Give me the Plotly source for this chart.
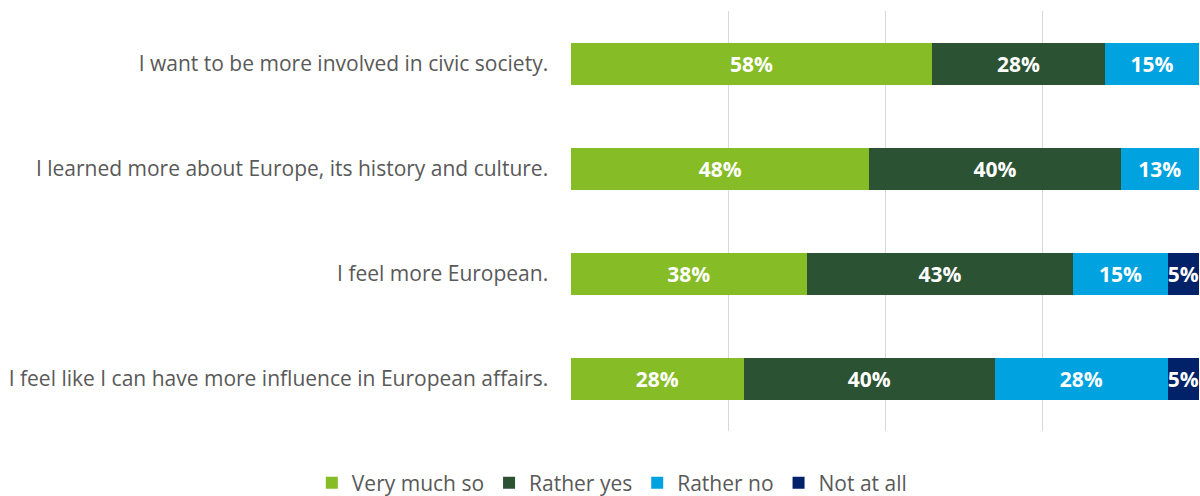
import math
import plotly.graph_objects as go

categories = [
    "I want to be more involved in civic society.",
    "I learned more about Europe, its history and culture.",
    "I feel more European.",
    "I feel like I can have more influence in European affairs.",
]
series_names = ["Very much so", "Rather yes", "Rather no", "Not at all"]
very_much_so = [57.5, 47.5, 37.5, 27.5]
rather_yes = [27.5, 40.0, 42.5, 40.0]
rather_no = [15.0, 12.5, 15.0, 27.5]
not_at_all = [0, 0, 5.0, 5.0]
colors = ["#86BC25", "#2C5234", "#00A3E0", "#012169"]

values = [very_much_so, rather_yes, rather_no, not_at_all]

FONT = "Open Sans"

fig = go.Figure()
for name, vals, col in zip(series_names, values, colors):
    texts = [f"{math.floor(v + 0.5)}%" if v > 0 else "" for v in vals]
    fig.add_trace(go.Bar(
        y=categories, x=vals, name=name, orientation="h",
        marker=dict(color=col, line=dict(width=0)),
        text=texts, textposition="inside", insidetextanchor="middle", textangle=0,
        textfont=dict(family=FONT, size=21, color="white", weight="bold"),
        constraintext="none", cliponaxis=False,
    ))

fig.update_layout(
    barmode="stack", bargap=0.6,
    width=1200, height=496,
    margin=dict(l=571, r=1, t=11, b=65, autoexpand=False),
    plot_bgcolor="white", paper_bgcolor="white",
    font=dict(family=FONT, color="#595959", size=21),
    legend=dict(orientation="h", x=0.065, xanchor="center", y=-0.124, yanchor="middle",
                font=dict(size=21, color="#595959"), itemwidth=30, traceorder="normal"),
    xaxis=dict(range=[0, 100], dtick=25, showgrid=True, gridcolor="#D9D9D9", gridwidth=1,
               showticklabels=False, zeroline=False, showline=False),
    yaxis=dict(autorange="reversed", showgrid=False, ticksuffix="    ", ticks="",
               tickfont=dict(size=21, color="#595959"), showline=False),
)
fig.write_html(
    "out.html",
    config={"displayModeBar": False},
    post_script="document.body.style.margin='0';document.body.style.overflow='hidden';",
)
